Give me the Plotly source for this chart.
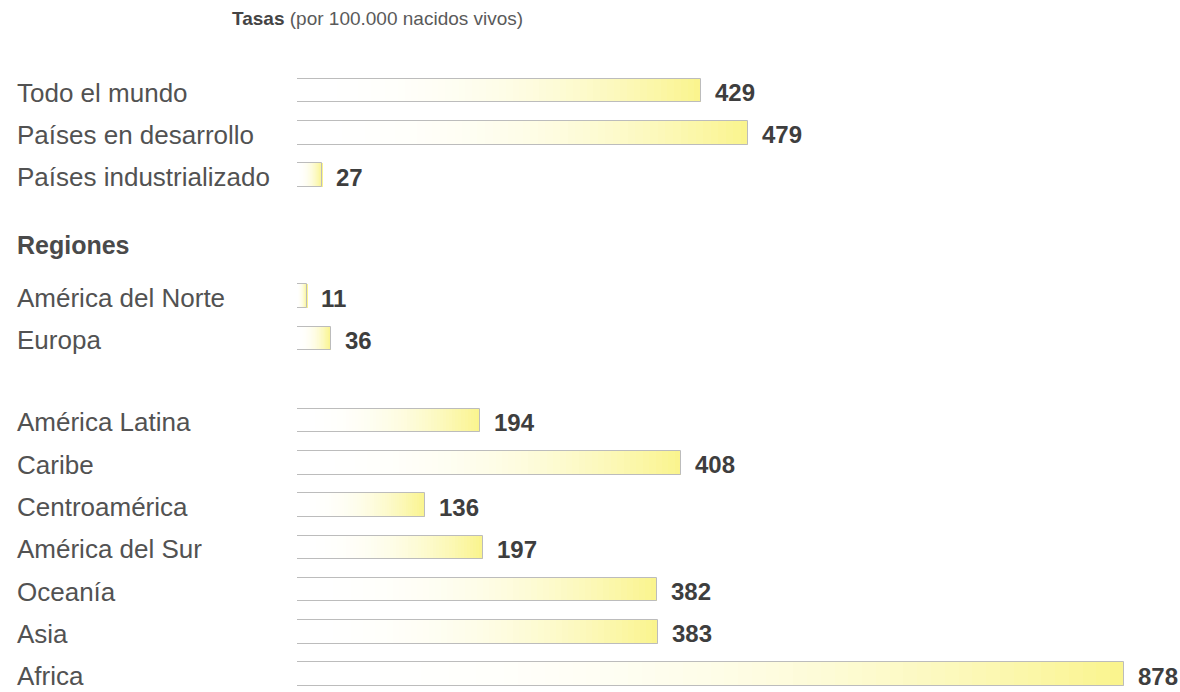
import plotly.graph_objects as go

# ---------------- data ----------------
summary_labels = ["Todo el mundo", "Países en desarrollo", "Países industrializado"]
summary_values = [429, 479, 27]

north_labels = ["América del Norte", "Europa"]
north_values = [11, 36]

south_labels = ["América Latina", "Caribe", "Centroamérica", "América del Sur",
                "Oceanía", "Asia", "Africa"]
south_values = [194, 408, 136, 197, 382, 383, 878]

title_bold = "Tasas"
title_rest = "(por 100.000 nacidos vivos)"
section_heading = "Regiones"

# ---------------- layout constants ----------------
W, H = 1180, 692
ROW_PX = 42.3          # pixel distance between rows
FIRST_ROW_PX = 90.5    # pixel centre of the first bar
X0_PX = 297            # pixel of value 0
XMAX_PX = 1124         # pixel of the largest value
LABEL_X_PX = 15
GAPS = [0, 2.86, 1.94]  # slot gap before each group
HEADING_SLOT = 3.65
BAR_W = 0.56
N_SEG = 60
FONT = "Liberation Sans, Arial, Helvetica, sans-serif"

groups = [(summary_labels, summary_values),
          (north_labels, north_values),
          (south_labels, south_values)]

labels, values, slots = [], [], []
slot = None
for gi, (labs, vals) in enumerate(groups):
    for j, (lab, val) in enumerate(zip(labs, vals)):
        if slot is None:
            slot = 0.0
        elif j == 0:
            slot += GAPS[gi]
        else:
            slot += 1
        labels.append(lab)
        values.append(val)
        slots.append(slot)

vmax = max(values)
x_range_max = vmax * (W - X0_PX) / (XMAX_PX - X0_PX)
y_top = -FIRST_ROW_PX / ROW_PX
y_bottom = (H - FIRST_ROW_PX) / ROW_PX


def grad(t):
    m = t ** 2.3
    r = 255 + (250 - 255) * m
    g = 255 + (244 - 255) * m
    b = 255 + (140 - 255) * m
    return f"rgb({r:.0f},{g:.0f},{b:.0f})"


seg_x, seg_base, seg_y, seg_col = [], [], [], []
for v, s in zip(values, slots):
    step = v / N_SEG
    for i in range(N_SEG):
        w = step * (1.08 if i < N_SEG - 1 else 1.0)
        seg_x.append(w)
        seg_base.append(i * step)
        seg_y.append(s)
        seg_col.append(grad((i + 0.5) / N_SEG))

fig = go.Figure()
fig.add_trace(go.Bar(
    x=seg_x, base=seg_base, y=seg_y, orientation="h", width=BAR_W,
    marker=dict(color=seg_col, line=dict(width=0)),
    hoverinfo="skip", showlegend=False,
))
fig.add_trace(go.Bar(
    x=values, y=slots, orientation="h", width=BAR_W,
    marker=dict(color="rgba(0,0,0,0)", line=dict(color="#bcbcbc", width=1)),
    hoverinfo="skip", showlegend=False,
))

annotations = []
for lab, v, s in zip(labels, values, slots):
    annotations.append(dict(
        x=LABEL_X_PX / W, xref="paper", y=s, yref="y",
        text=lab, showarrow=False, xanchor="left", yanchor="middle", yshift=-2,
        font=dict(family=FONT, size=26, color="#525252"),
    ))
    annotations.append(dict(
        x=v, xref="x", y=s, yref="y", text=f"<b>{v}</b>", showarrow=False,
        xanchor="left", yanchor="middle", xshift=12, yshift=-2,
        font=dict(family=FONT, size=24, color="#3e3e3e"),
    ))

annotations.append(dict(
    x=LABEL_X_PX / W, xref="paper", y=HEADING_SLOT, yref="y",
    text=f"<b>{section_heading}</b>", showarrow=False, xanchor="left", yanchor="middle",
    font=dict(family=FONT, size=25, color="#4a4a4a"),
))
annotations.append(dict(
    x=230 / W, xref="paper", y=1 - 19 / H, yref="paper",
    text=f"<b>{title_bold}</b> <span style='color:#5a5a5a'>{title_rest}</span>",
    showarrow=False, xanchor="left", yanchor="middle",
    font=dict(family=FONT, size=19, color="#444444"),
))

fig.update_layout(
    width=W, height=H,
    margin=dict(l=0, r=0, t=0, b=0),
    paper_bgcolor="white", plot_bgcolor="white",
    barmode="overlay", bargap=0,
    annotations=annotations,
    xaxis=dict(domain=[X0_PX / W, 1], range=[0, x_range_max], visible=False, fixedrange=True),
    yaxis=dict(range=[y_bottom, y_top], visible=False, fixedrange=True),
    showlegend=False,
)

fig.write_html("out.html")
